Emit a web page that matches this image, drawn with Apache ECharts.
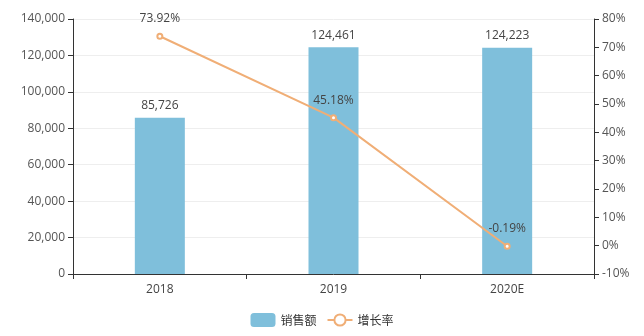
<!DOCTYPE html>
<html><head><meta charset="utf-8">
<script src="https://cdn.jsdelivr.net/npm/echarts@6/dist/echarts.min.js"></script>
<style>html,body{margin:0;padding:0;background:#fff}#c{width:644px;height:336px}</style>
</head><body><div id="c"></div>
<script>
var categories = ['2018', '2019', '2020E'];
var salesValues = [85726, 124461, 124223];
var growthValues = [73.92, 45.18, -0.19];
var seriesNames = ['销售额', '增长率'];

var chart = echarts.init(document.getElementById('c'));
var axisCommon = {
  axisLine: {show: true, lineStyle: {color: '#333'}},
  axisTick: {show: true, lineStyle: {color: '#333'}},
  axisLabel: {color: '#555', fontSize: 12, fontFamily: 'Open Sans, sans-serif'}
};
chart.setOption({
  animation: false,
  textStyle: {fontFamily: 'Open Sans, Noto Sans CJK SC, sans-serif'},
  grid: {left: 73, right: 50, top: 19, bottom: 62},
  legend: {
    bottom: 4, left: 'center', itemWidth: 25, itemHeight: 14, itemGap: 10,
    textStyle: {color: '#333', fontSize: 12, fontFamily: 'Noto Sans CJK SC'},
    data: [seriesNames[0], seriesNames[1]]
  },
  xAxis: {
    type: 'category', data: categories,
    axisLine: {lineStyle: {color: '#333'}},
    axisTick: {show: true, lineStyle: {color: '#333'}},
    axisLabel: {color: '#444', fontSize: 12, margin: 10}
  },
  yAxis: [
    Object.assign({
      type: 'value', min: 0, max: 140000, interval: 20000,
      splitLine: {show: true, lineStyle: {color: '#eee'}},
      axisLabel: Object.assign({}, axisCommon.axisLabel, {
        formatter: function (v) { return v.toLocaleString('en-US'); }
      })
    }, {axisLine: axisCommon.axisLine, axisTick: axisCommon.axisTick}),
    Object.assign({
      type: 'value', min: -10, max: 80, interval: 10, position: 'right',
      splitLine: {show: false},
      axisLabel: Object.assign({}, axisCommon.axisLabel, {formatter: '{value}%'})
    }, {axisLine: axisCommon.axisLine, axisTick: axisCommon.axisTick})
  ],
  series: [
    {
      name: seriesNames[0], type: 'bar', data: salesValues, barWidth: 50,
      itemStyle: {color: '#7fbfdb'},
      label: {show: true, position: 'top', color: '#444', fontSize: 12, distance: 6,
        formatter: function (p) { return p.value.toLocaleString('en-US'); }}
    },
    {
      name: seriesNames[1], type: 'line', yAxisIndex: 1, data: growthValues,
      symbol: 'emptyCircle', symbolSize: 5,
      lineStyle: {color: '#f0ae76', width: 2},
      itemStyle: {color: '#f0ae76'},
      label: {show: true, position: 'top', color: '#444', fontSize: 12, distance: 8,
        formatter: function (p) { return p.value.toFixed(2) + '%'; }}
    }
  ]
});
</script></body></html>
